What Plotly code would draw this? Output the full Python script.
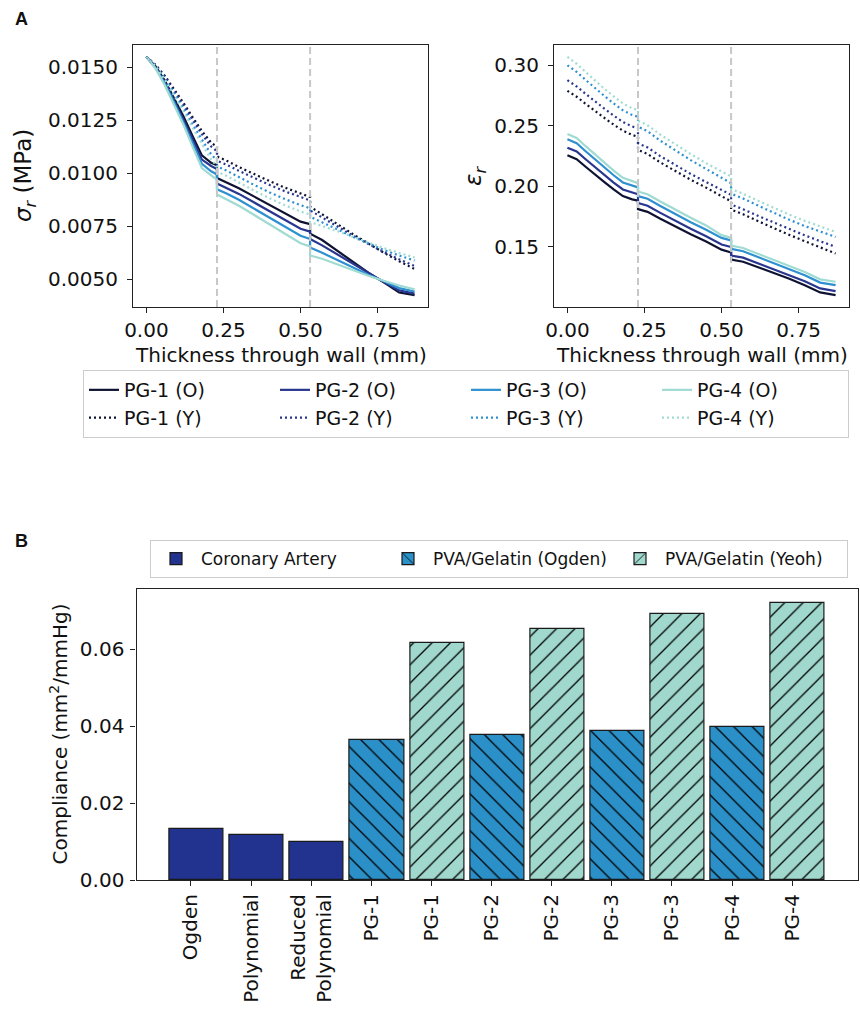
import plotly.graph_objects as go

# ---------------- data ----------------
thickness_mm = [0, 0.03, 0.06, 0.09, 0.12, 0.15, 0.18, 0.21, 0.229,
                0.229, 0.26, 0.30, 0.35, 0.40, 0.45, 0.50, 0.531,
                0.531, 0.57, 0.62, 0.67, 0.72, 0.77, 0.82, 0.87]
layer_bounds = [0.229, 0.531]

series_names = ["PG-1", "PG-2", "PG-3", "PG-4"]

stress_O = {
    "PG-1": [0.01550, 0.01505, 0.01437, 0.01355, 0.01270, 0.01175, 0.01085, 0.01050, 0.01038,
             0.00978, 0.00958, 0.00930, 0.00890, 0.00850, 0.00810, 0.00772, 0.00760,
             0.00715, 0.00685, 0.00634, 0.00582, 0.00531, 0.00485, 0.00437, 0.00425],
    "PG-2": [0.01550, 0.01500, 0.01430, 0.01345, 0.01255, 0.01160, 0.01065, 0.01035, 0.01020,
             0.00952, 0.00932, 0.00903, 0.00862, 0.00820, 0.00780, 0.00738, 0.00725,
             0.00690, 0.00660, 0.00616, 0.00571, 0.00527, 0.00487, 0.00447, 0.00432],
    "PG-3": [0.01550, 0.01497, 0.01422, 0.01335, 0.01240, 0.01140, 0.01045, 0.01010, 0.00995,
             0.00925, 0.00905, 0.00875, 0.00833, 0.00790, 0.00748, 0.00705, 0.00690,
             0.00650, 0.00625, 0.00590, 0.00556, 0.00521, 0.00490, 0.00458, 0.00442],
    "PG-4": [0.01550, 0.01495, 0.01415, 0.01325, 0.01230, 0.01125, 0.01025, 0.00990, 0.00970,
             0.00900, 0.00878, 0.00847, 0.00803, 0.00760, 0.00717, 0.00670, 0.00655,
             0.00612, 0.00597, 0.00569, 0.00542, 0.00516, 0.00493, 0.00470, 0.00452],
}
stress_Y = {
    "PG-1": [0.01550, 0.01512, 0.01460, 0.01398, 0.01333, 0.01265, 0.01200, 0.01145, 0.01125,
             0.01080, 0.01060, 0.01030, 0.00996, 0.00963, 0.00932, 0.00903, 0.00888,
             0.00843, 0.00808, 0.00760, 0.00713, 0.00668, 0.00625, 0.00585, 0.00548],
    "PG-2": [0.01550, 0.01510, 0.01455, 0.01390, 0.01323, 0.01253, 0.01185, 0.01127, 0.01105,
             0.01060, 0.01041, 0.01012, 0.00978, 0.00945, 0.00915, 0.00887, 0.00872,
             0.00825, 0.00793, 0.00749, 0.00706, 0.00666, 0.00628, 0.00594, 0.00562],
    "PG-3": [0.01550, 0.01507, 0.01447, 0.01378, 0.01305, 0.01230, 0.01158, 0.01090, 0.01060,
             0.01033, 0.01013, 0.00982, 0.00945, 0.00910, 0.00878, 0.00850, 0.00835,
             0.00795, 0.00770, 0.00735, 0.00700, 0.00668, 0.00638, 0.00612, 0.00588],
    "PG-4": [0.01550, 0.01505, 0.01442, 0.01370, 0.01293, 0.01215, 0.01140, 0.01065, 0.01035,
             0.01008, 0.00988, 0.00956, 0.00918, 0.00882, 0.00849, 0.00820, 0.00805,
             0.00770, 0.00752, 0.00727, 0.00700, 0.00672, 0.00647, 0.00624, 0.00603],
}
strain_O = {
    "PG-1": [0.2257, 0.2225, 0.2160, 0.2095, 0.2035, 0.1975, 0.1920, 0.1893, 0.1882,
             0.1813, 0.1790, 0.1735, 0.1668, 0.1605, 0.1545, 0.1478, 0.1455,
             0.1397, 0.1378, 0.1332, 0.1285, 0.1238, 0.1185, 0.1125, 0.1103],
    "PG-2": [0.2320, 0.2288, 0.2222, 0.2156, 0.2094, 0.2032, 0.1975, 0.1947, 0.1935,
             0.1863, 0.1840, 0.1784, 0.1715, 0.1650, 0.1588, 0.1520, 0.1500,
             0.1430, 0.1412, 0.1365, 0.1318, 0.1270, 0.1218, 0.1158, 0.1136],
    "PG-3": [0.2389, 0.2356, 0.2288, 0.2220, 0.2156, 0.2092, 0.2033, 0.2004, 0.1992,
             0.1920, 0.1898, 0.1840, 0.1770, 0.1705, 0.1642, 0.1575, 0.1555,
             0.1485, 0.1465, 0.1416, 0.1367, 0.1318, 0.1266, 0.1206, 0.1186],
    "PG-4": [0.2433, 0.2400, 0.2330, 0.2261, 0.2196, 0.2131, 0.2071, 0.2040, 0.2027,
             0.1958, 0.1936, 0.1878, 0.1808, 0.1742, 0.1678, 0.1598, 0.1575,
             0.1512, 0.1492, 0.1443, 0.1394, 0.1346, 0.1294, 0.1233, 0.1213],
}
strain_Y = {
    "PG-1": [0.2789, 0.2740, 0.2680, 0.2620, 0.2565, 0.2510, 0.2460, 0.2425, 0.2410,
             0.2301, 0.2268, 0.2200, 0.2125, 0.2055, 0.1990, 0.1920, 0.1876,
             0.1809, 0.1770, 0.1712, 0.1655, 0.1600, 0.1548, 0.1497, 0.1446],
    "PG-2": [0.2877, 0.2825, 0.2762, 0.2700, 0.2642, 0.2585, 0.2532, 0.2495, 0.2480,
             0.2356, 0.2322, 0.2252, 0.2175, 0.2103, 0.2036, 0.1967, 0.1931,
             0.1850, 0.1812, 0.1755, 0.1700, 0.1647, 0.1596, 0.1548, 0.1501],
    "PG-3": [0.3000, 0.2945, 0.2877, 0.2810, 0.2746, 0.2685, 0.2628, 0.2590, 0.2575,
             0.2493, 0.2456, 0.2380, 0.2295, 0.2217, 0.2144, 0.2070, 0.2027,
             0.1940, 0.1900, 0.1840, 0.1781, 0.1725, 0.1673, 0.1626, 0.1583],
    "PG-4": [0.3069, 0.3012, 0.2942, 0.2872, 0.2806, 0.2743, 0.2685, 0.2645, 0.2630,
             0.2542, 0.2505, 0.2430, 0.2345, 0.2267, 0.2192, 0.2122, 0.2082,
             0.1978, 0.1940, 0.1880, 0.1822, 0.1767, 0.1716, 0.1668, 0.1624],
}

bar_labels = ["Ogden", "Polynomial", "Reduced<br>Polynomial",
              "PG-1", "PG-1", "PG-2", "PG-2", "PG-3", "PG-3", "PG-4", "PG-4"]
coronary_idx = [0, 1, 2]
coronary_vals = [0.0132, 0.0116, 0.0099]
ogden_idx = [3, 5, 7, 9]
ogden_vals = [0.0364, 0.0378, 0.0387, 0.0398]
yeoh_idx = [4, 6, 8, 10]
yeoh_vals = [0.0616, 0.0652, 0.0690, 0.0720]

# ---------------- style ----------------
FONT = "DejaVu Sans"
line_colors = {"PG-1": "#0e1332", "PG-2": "#28368f", "PG-3": "#2e90d1", "PG-4": "#a0dbd3"}
bar_colors = {"coronary": "#22338f", "ogden": "#2b90c8", "yeoh": "#a0d8cd"}
W, H = 860, 1011


def px_x(p):
    return p / W


def px_y(p):
    return 1 - p / H


fig = go.Figure()

for sname in series_names:
    fig.add_trace(go.Scatter(x=thickness_mm, y=stress_O[sname], mode="lines",
                             name=f"{sname} (O)", legendgroup=f"{sname}O",
                             line=dict(color=line_colors[sname], width=2.2),
                             xaxis="x", yaxis="y"))
for sname in series_names:
    fig.add_trace(go.Scatter(x=thickness_mm, y=stress_Y[sname], mode="lines",
                             name=f"{sname} (Y)", legendgroup=f"{sname}Y",
                             line=dict(color=line_colors[sname], width=2.2, dash="2px,3px"),
                             xaxis="x", yaxis="y"))
for sname in series_names:
    fig.add_trace(go.Scatter(x=thickness_mm, y=strain_O[sname], mode="lines",
                             showlegend=False,
                             line=dict(color=line_colors[sname], width=2.2),
                             xaxis="x2", yaxis="y2"))
for sname in series_names:
    fig.add_trace(go.Scatter(x=thickness_mm, y=strain_Y[sname], mode="lines",
                             showlegend=False,
                             line=dict(color=line_colors[sname], width=2.2, dash="2px,3px"),
                             xaxis="x2", yaxis="y2"))

bar_line = dict(color="#1a1a1a", width=1.2)
fig.add_trace(go.Bar(x=coronary_idx, y=coronary_vals, name="Coronary Artery", width=0.9,
                     marker=dict(color=bar_colors["coronary"], line=bar_line),
                     xaxis="x3", yaxis="y3", legend="legend2"))
fig.add_trace(go.Bar(x=ogden_idx, y=ogden_vals, name="PVA/Gelatin (Ogden)", width=0.9,
                     marker=dict(color=bar_colors["ogden"], line=bar_line,
                                 pattern=dict(shape="\\", fgcolor="#000000", fgopacity=1,
                                              bgcolor=bar_colors["ogden"],
                                              size=13, solidity=0.1, fillmode="overlay")),
                     xaxis="x3", yaxis="y3", legend="legend2"))
fig.add_trace(go.Bar(x=yeoh_idx, y=yeoh_vals, name="PVA/Gelatin (Yeoh)", width=0.9,
                     marker=dict(color=bar_colors["yeoh"], line=bar_line,
                                 pattern=dict(shape="/", fgcolor="#000000", fgopacity=1,
                                              bgcolor=bar_colors["yeoh"],
                                              size=13, solidity=0.1, fillmode="overlay")),
                     xaxis="x3", yaxis="y3", legend="legend2"))


def pad_range(vals, frac=0.05):
    lo, hi = min(vals), max(vals)
    d = (hi - lo) * frac
    return [lo - d, hi + d]


all_stress = [v for d in (stress_O, stress_Y) for s in d.values() for v in s]
all_strain = [v for d in (strain_O, strain_Y) for s in d.values() for v in s]
xr = pad_range(thickness_mm)

axis_common = dict(showline=True, linecolor="#222222", linewidth=1.2, mirror=True,
                   ticks="outside", ticklen=5, tickwidth=1.2, tickcolor="#222222",
                   showgrid=False, zeroline=False, automargin=False,
                   tickfont=dict(family=FONT, size=20, color="#111111"))

top_y_dom = [px_y(307), px_y(45)]
fig.update_layout(
    xaxis=dict(domain=[px_x(133), px_x(428)], range=xr, tickvals=[0, 0.25, 0.5, 0.75],
               tickformat=".2f", anchor="y", **axis_common),
    yaxis=dict(domain=top_y_dom, range=pad_range(all_stress), dtick=0.0025, tick0=0,
               tickformat=".4f", anchor="x", ticklabelstandoff=5, **axis_common),
    xaxis2=dict(domain=[px_x(554), px_x(849)], range=xr, tickvals=[0, 0.25, 0.5, 0.75],
                tickformat=".2f", anchor="y2", **axis_common),
    yaxis2=dict(domain=top_y_dom, range=pad_range(all_strain), dtick=0.05, tick0=0,
                tickformat=".2f", anchor="x2", ticklabelstandoff=5, **axis_common),
    xaxis3=dict(domain=[px_x(136.5), px_x(858)], range=[-1, 11],
                tickvals=[i - 0.095 for i in range(len(bar_labels))], ticktext=bar_labels,
                tickangle=-90, anchor="y3", **axis_common),
    yaxis3=dict(domain=[px_y(880), px_y(589)],
                range=[0, max(yeoh_vals) * 1.05], dtick=0.02, tickformat=".2f",
                anchor="x3", ticklabelstandoff=2, **axis_common),
)

# layer boundaries
for xa, ya in (("x", "y"), ("x2", "y2")):
    for b in layer_bounds:
        fig.add_shape(type="line", xref=xa, yref=f"{ya} domain", x0=b, x1=b, y0=0, y1=1,
                      line=dict(color="#c8c8c8", width=2, dash="7px,4px"), layer="above")

ann_font = dict(family=FONT, size=20, color="#111111")
annotations = [
    dict(text="<b>A</b>", x=px_x(21), y=px_y(19), font=dict(family="Liberation Sans", size=18, color="#111")),
    dict(text="<b>B</b>", x=px_x(21), y=px_y(541), font=dict(family="Liberation Sans", size=18, color="#111")),
    dict(text="Thickness through wall (mm)", x=px_x(280.5), y=px_y(355), font=ann_font),
    dict(text="Thickness through wall (mm)", x=px_x(701.5), y=px_y(355), font=ann_font),
    dict(text="<i>σ</i><sub><i>r</i></sub> (MPa)", x=px_x(25), y=px_y(176), textangle=-90,
         font=dict(family=FONT, size=23, color="#111111")),
    dict(text="<i>ε</i><sub><i>r</i></sub>", x=px_x(475), y=px_y(176), textangle=-90,
         font=dict(family=FONT, size=23, color="#111111")),
    dict(text="Compliance (mm<sup>2</sup>/mmHg)", x=px_x(58), y=px_y(734.5), textangle=-90,
         font=ann_font),
]
for a in annotations:
    a.update(xref="paper", yref="paper", showarrow=False, xanchor="center", yanchor="middle")
fig.update_layout(annotations=annotations)

fig.update_layout(
    width=W, height=H, margin=dict(l=0, r=0, t=0, b=0),
    paper_bgcolor="white", plot_bgcolor="white", template="none",
    font=dict(family=FONT, color="#111111"),
    showlegend=True,
    legend=dict(orientation="h", x=px_x(849), y=px_y(370), xanchor="right", yanchor="top",
                bordercolor="#cccccc", borderwidth=1, bgcolor="white",
                font=dict(family=FONT, size=19, color="#111111"),
                entrywidth=146, entrywidthmode="pixels", traceorder="normal",
                itemwidth=30),
    legend2=dict(orientation="h", x=px_x(848), y=px_y(540), xanchor="right", yanchor="top",
                 bordercolor="#cccccc", borderwidth=1, bgcolor="white",
                 font=dict(family=FONT, size=17, color="#111111"),
                 entrywidth=177, entrywidthmode="pixels",
                 traceorder="normal", itemwidth=40),
    bargap=0,
)

fig.write_html("out.html")
